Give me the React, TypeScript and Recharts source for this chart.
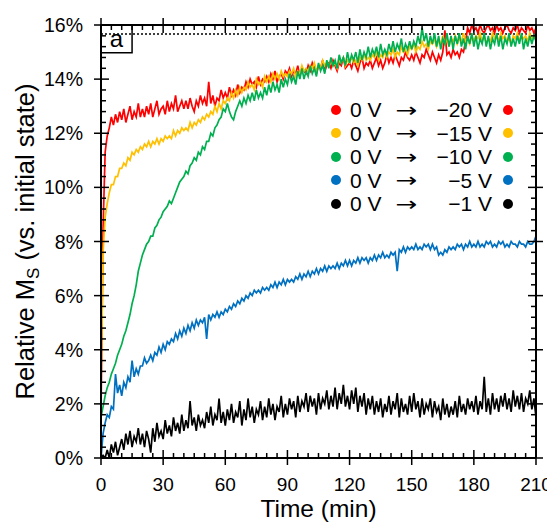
import React from "react";
import {
  LineChart,
  Line,
  XAxis,
  YAxis,
  Legend,
  Label,
  ReferenceLine,
  ReferenceArea,
} from "recharts";

const FONT = '"Liberation Sans", Arial, sans-serif';

// one reading per minute, 0 to 210 min
const time: number[] = [];
for (let t = 0; t <= 210; t++) time.push(t);

// relative Ms (%), rows of ten minutes
const minus20 = [
  1.5, 8.5, 11.3, 11.9, 12.2, 12.6, 12.3, 12.7, 12.4, 12.8,
  12.5, 12.9, 12.4, 12.7, 13.0, 12.5, 12.8, 12.6, 13.1, 12.6,
  12.9, 12.6, 13.0, 12.7, 13.1, 12.6, 12.9, 13.2, 12.7, 12.9,
  13.0, 12.7, 13.2, 12.8, 13.1, 12.9, 13.4, 12.8, 13.0, 13.2,
  12.9, 13.2, 12.9, 13.3, 13.0, 12.8, 13.2, 13.0, 13.4, 13.1,
  13.3, 13.0, 13.9, 13.1, 13.4, 13.0, 13.3, 13.2, 13.6, 13.3,
  13.5, 13.3, 13.7, 13.4, 13.6, 13.4, 13.8, 13.5, 13.7, 13.6,
  13.9, 13.7, 14.0, 13.8, 13.9, 13.7, 14.1, 13.8, 14.0, 13.9,
  14.1, 13.9, 14.2, 14.0, 14.3, 13.9, 14.1, 14.2, 14.0, 14.3,
  14.2, 14.4, 14.1, 14.3, 14.2, 14.5, 14.1, 14.4, 14.3, 14.2,
  14.5, 14.3, 14.6, 14.4, 14.2, 14.5, 14.4, 14.7, 14.3, 14.5,
  14.6, 14.4, 14.7, 14.5, 14.3, 14.6, 14.5, 14.8, 14.4, 14.5,
  14.6, 14.4, 14.7, 14.5, 14.3, 14.6, 14.8, 14.4, 14.6, 14.5,
  14.7, 14.4, 14.6, 14.8, 14.5, 14.7, 14.4, 14.6, 14.9, 14.6,
  14.8, 14.6, 14.9, 14.7, 14.5, 14.8, 14.7, 15.0, 14.8, 14.7,
  14.9, 14.7, 15.0, 14.8, 14.6, 14.9, 14.8, 15.1, 14.9, 14.7,
  15.0, 14.8, 14.6, 14.9, 14.7, 15.0, 15.8, 14.9, 15.0, 14.8,
  15.1, 14.9, 15.0, 14.8, 15.1, 15.0, 15.4, 15.9, 15.7, 16.0,
  15.8, 15.9, 15.7, 16.0, 15.8, 15.7, 15.9, 16.0, 15.8, 15.9,
  15.7, 16.0, 15.8, 15.9, 15.7, 15.9, 16.0, 15.8, 15.7, 15.9,
  15.8, 16.0, 15.7, 15.9, 15.8, 15.7, 16.0, 15.8, 15.9, 15.7,
  15.9,
];

const minus15 = [
  2.5, 7.6, 8.9, 9.4, 9.8, 10.1, 10.1, 10.4, 10.4, 10.7,
  10.7, 10.9, 10.8, 11.1, 11.0, 11.3, 11.2, 11.4, 11.3, 11.5,
  11.4, 11.6, 11.5, 11.7, 11.5, 11.7, 11.6, 11.8, 11.6, 11.8,
  11.7, 11.9, 11.8, 11.9, 11.8, 12.1, 11.9, 12.1, 12.0, 12.2,
  12.1, 12.2, 12.1, 12.4, 12.2, 12.4, 12.3, 12.5, 12.4, 12.6,
  12.5, 12.7, 12.6, 12.8, 12.7, 13.0, 12.8, 13.1, 12.9, 13.2,
  13.1, 13.3, 13.2, 13.5, 13.3, 13.6, 13.4, 13.7, 13.5, 13.7,
  13.6, 13.9, 13.7, 13.8, 13.6, 14.0, 13.8, 13.9, 13.7, 14.1,
  13.9, 14.1, 13.9, 14.2, 14.0, 14.2, 14.0, 14.3, 14.1, 14.2,
  14.1, 14.3, 14.2, 14.4, 14.1, 14.3, 14.2, 14.5, 14.3, 14.4,
  14.3, 14.5, 14.4, 14.6, 14.3, 14.5, 14.4, 14.7, 14.5, 14.6,
  14.5, 14.7, 14.5, 14.6, 14.4, 14.7, 14.6, 14.8, 14.5, 14.7,
  14.6, 14.8, 14.6, 14.7, 14.5, 14.8, 14.7, 14.9, 14.7, 14.8,
  14.7, 14.9, 14.8, 15.0, 14.7, 14.9, 14.8, 15.0, 14.8, 15.0,
  14.9, 15.1, 14.8, 15.0, 14.9, 15.2, 15.0, 15.1, 14.9, 15.2,
  15.1, 15.3, 15.0, 15.2, 15.1, 15.4, 15.2, 15.3, 15.1, 15.4,
  15.3, 15.5, 15.2, 15.4, 15.3, 15.6, 15.3, 15.5, 15.2, 15.5,
  15.4, 15.6, 15.3, 15.5, 15.4, 15.7, 15.4, 15.5, 15.3, 15.6,
  15.4, 15.6, 15.5, 15.7, 15.4, 15.6, 15.3, 15.5, 15.4, 15.7,
  15.5, 15.6, 15.4, 15.7, 15.5, 15.6, 15.4, 15.5, 15.3, 15.6,
  15.5, 15.7, 15.4, 15.6, 15.5, 15.6, 15.4, 15.7, 15.5, 15.6,
  15.5,
];

const minus10 = [
  1.5, 1.9, 2.3, 2.6, 2.8, 3.1, 3.3, 3.5, 3.8, 4.0,
  4.2, 4.5, 4.7, 5.0, 5.3, 5.7, 6.0, 6.4, 6.9, 7.2,
  7.5, 7.7, 7.9, 8.0, 8.2, 8.2, 8.5, 8.6, 8.8, 8.9,
  9.1, 9.2, 9.3, 9.5, 9.4, 9.6, 9.8, 10.0, 10.2, 10.3,
  10.4, 10.6, 10.5, 10.8, 10.9, 11.1, 11.0, 11.3, 11.2, 11.5,
  11.4, 11.7, 11.7, 12.0, 11.9, 12.2, 12.3, 12.5, 12.6, 12.9,
  12.8, 13.1, 12.8, 12.6, 12.5, 12.8, 13.0, 13.2, 13.0, 13.3,
  13.1, 13.4, 13.2, 13.5, 13.2, 13.6, 13.3, 13.5, 13.3, 13.7,
  13.4, 13.8, 13.5, 13.9, 13.6, 13.8, 13.5, 14.0, 13.7, 14.0,
  13.8, 14.2, 13.9, 14.1, 13.8, 14.3, 14.0, 14.4, 14.0, 14.3,
  14.1, 14.5, 14.2, 14.4, 14.1, 14.6, 14.3, 14.5, 14.2, 14.7,
  14.4, 14.8, 14.5, 14.7, 14.4, 14.9, 14.6, 14.8, 14.5, 15.0,
  14.6, 14.9, 14.7, 15.0, 14.6, 15.1, 14.7, 15.0, 14.8, 15.2,
  14.8, 15.1, 14.9, 15.2, 14.8, 15.3, 14.9, 15.1, 14.9, 15.3,
  15.0, 15.4, 15.0, 15.3, 15.1, 15.5, 15.0, 15.3, 15.1, 15.4,
  15.1, 15.4, 15.2, 15.6, 15.3, 15.9, 15.4, 15.7, 15.2, 15.6,
  15.3, 15.7, 15.2, 15.6, 15.1, 15.5, 15.3, 15.7, 15.2, 15.6,
  15.1, 15.6, 15.3, 15.7, 15.2, 15.5, 15.1, 15.6, 15.3, 15.7,
  15.2, 15.6, 15.1, 15.5, 15.3, 15.7, 15.2, 15.6, 15.1, 15.5,
  15.3, 15.7, 15.2, 15.6, 15.1, 15.5, 15.3, 15.7, 15.2, 15.5,
  15.2, 15.6, 15.3, 15.7, 15.1, 15.5, 15.2, 15.6, 15.3, 15.6,
  15.4,
];

const minus5 = [
  0.0, 0.9, 1.3, 1.6, 1.5, 1.9, 1.8, 3.1, 2.4, 2.7,
  2.3, 2.8, 2.6, 3.0, 2.8, 3.6, 3.0, 3.3, 3.1, 3.4,
  3.4, 3.7, 3.5, 3.6, 3.8, 3.6, 3.9, 3.8, 4.1, 3.9,
  4.2, 4.0, 4.3, 4.2, 4.4, 4.3, 4.6, 4.4, 4.7, 4.5,
  4.8, 4.6, 4.9, 4.7, 5.0, 4.8, 5.1, 4.9, 5.1, 5.0,
  5.2, 4.4, 5.3, 5.1, 5.3, 5.2, 5.4, 5.2, 5.4, 5.3,
  5.5, 5.4, 5.6, 5.5, 5.7, 5.6, 5.8, 5.7, 5.9, 5.8,
  6.0, 5.9, 6.1, 6.0, 6.2, 6.1, 6.2, 6.1, 6.3, 6.2,
  6.3, 6.2, 6.4, 6.3, 6.5, 6.3, 6.5, 6.4, 6.6, 6.4,
  6.6, 6.5, 6.6, 6.5, 6.7, 6.6, 6.8, 6.6, 6.8, 6.7,
  6.9, 6.7, 6.9, 6.8, 7.0, 6.8, 7.0, 6.9, 7.1, 6.9,
  7.1, 7.0, 7.1, 7.0, 7.2, 7.0, 7.2, 7.1, 7.3, 7.1,
  7.3, 7.1, 7.3, 7.2, 7.4, 7.2, 7.4, 7.3, 7.4, 7.2,
  7.4, 7.3, 7.5, 7.3, 7.5, 7.4, 7.6, 7.4, 7.5, 7.4,
  7.6, 7.5, 7.6, 6.9, 7.7, 7.6, 7.8, 7.6, 7.8, 7.7,
  7.8, 7.7, 7.9, 7.7, 7.8, 7.7, 7.9, 7.8, 7.9, 7.7,
  7.9, 7.7, 7.8, 7.5, 7.6, 7.5, 7.7, 7.6, 7.8, 7.7,
  7.8, 7.7, 7.9, 7.8, 7.9, 7.7, 7.9, 7.8, 8.0, 7.8,
  7.9, 7.8, 8.0, 7.8, 7.9, 7.8, 8.0, 7.9, 8.0, 7.8,
  7.9, 7.8, 8.0, 7.9, 8.0, 7.8, 7.9, 7.8, 8.0, 7.9,
  7.9, 7.8, 8.0, 7.9, 7.9, 7.8, 8.0, 7.9, 7.9, 8.0,
  8.2,
];

const minus1 = [
  0.0, 0.1, 0.0, 0.3, 0.0, 0.5, 0.2, 0.6, 0.1, 0.4,
  0.7, 0.3, 0.9, 0.5, 1.0, 0.4, 0.8, 0.6, 1.1, 0.5,
  0.9, 0.4, 1.0, 0.7, 0.2, 1.1, 0.6, 1.3, 0.8, 1.0,
  0.7, 1.4, 0.9, 1.2, 0.8, 1.5, 1.0, 1.3, 0.9, 1.6,
  1.0, 1.4, 1.1, 2.1, 1.2, 1.5, 1.0, 1.6, 1.2, 1.4,
  1.1, 1.7, 1.3, 1.9, 1.2, 1.6, 1.4, 2.2, 1.3, 1.7,
  1.2, 1.8, 1.4, 2.0, 1.3, 1.7, 1.5, 2.1, 1.2, 1.8,
  1.4, 2.2, 1.5, 1.9, 1.3, 1.8, 1.6, 2.1, 1.4, 1.9,
  1.5, 2.2, 1.6, 2.0, 1.4, 1.9, 1.7, 2.3, 1.5, 2.0,
  1.6, 2.2, 1.8, 2.1, 1.5, 2.3, 1.7, 2.1, 1.9, 2.4,
  1.7, 2.3, 1.9, 2.2, 1.6, 2.4, 1.8, 2.2, 2.0, 2.5,
  1.8, 2.3, 1.9, 2.6, 1.8, 2.4, 2.0, 2.7, 1.9, 2.3,
  1.8, 2.5, 2.0, 2.6, 1.7, 2.3, 1.9, 2.4, 1.6, 2.2,
  1.8, 2.3, 1.6, 2.1, 1.7, 2.2, 1.5, 2.0, 1.7, 2.3,
  1.6, 2.1, 1.8, 2.4, 1.5, 2.2, 1.7, 2.0, 1.6, 2.3,
  1.7, 2.4, 1.8, 2.1, 1.5, 2.2, 1.6, 2.0, 1.8, 2.2,
  1.5, 2.1, 1.7, 1.9, 1.4, 2.2, 1.6, 2.0, 1.5, 1.9,
  1.6, 2.1, 1.5, 2.3, 1.7, 2.0, 1.6, 2.2, 1.8, 2.1,
  1.7, 2.3, 1.6, 2.1, 1.8, 3.0, 1.7, 2.2, 1.6, 2.4,
  1.8, 2.2, 1.7, 2.3, 1.9, 2.4, 1.8, 2.2, 1.7, 2.5,
  1.9, 2.3, 1.8, 2.4, 1.7, 2.2, 2.0, 2.5, 1.8, 2.2,
  1.5,
];

const seriesKeys = ["m20", "m15", "m10", "m5", "m1"];
const seriesLabels = ["\u221220 V", "\u221215 V", "\u221210 V", "\u22125 V", "\u22121 V"];
const seriesColors = ["#FF0000", "#FFC000", "#00B050", "#0070C0", "#000000"];

const xTicks: number[] = [];
for (let t = 0; t <= 210; t += 5) xTicks.push(t);
const yTicks: number[] = [];
for (let k = 0; k <= 40; k++) yTicks.push(Math.round(k * 4) / 10);

const rows = time.map((t, i) => ({
  t,
  m20: minus20[i],
  m15: minus15[i],
  m10: minus10[i],
  m5: minus5[i],
  m1: minus1[i],
}));

// plot box in svg px
const LEFT = 93;
const RIGHT = 528;
const TOP = 17;
const BOTTOM = 450;

const isMajorY = (v: number) => Math.abs(v / 2 - Math.round(v / 2)) < 1e-6;

const BottomTick = (props: any) => {
  const { x, y, payload } = props;
  const v = payload.value;
  const major = v % 30 === 0;
  return (
    <g>
      <line x1={x} x2={x} y1={y - (major ? 8 : 5)} y2={y + (major ? 7 : 0)} stroke="#000" strokeWidth={1.5} />
      {major && (
        <text x={x} y={y + 33} textAnchor="middle" fontSize={19} fontFamily={FONT} fill="#000">
          {v}
        </text>
      )}
    </g>
  );
};

const TopTick = (props: any) => {
  const { x, y, payload } = props;
  const major = payload.value % 30 === 0;
  return <line x1={x} x2={x} y1={y - (major ? 7 : 0)} y2={y + (major ? 8 : 5)} stroke="#000" strokeWidth={1.5} />;
};

const LeftTick = (props: any) => {
  const { x, y, payload } = props;
  const v = payload.value;
  const major = isMajorY(v);
  return (
    <g>
      <line x1={x - (major ? 7 : 0)} x2={x + (major ? 8 : 5)} y1={y} y2={y} stroke="#000" strokeWidth={1.5} />
      {major && (
        <text x={x - 18} y={y + 7} textAnchor="end" fontSize={19.5} fontFamily={FONT} fill="#000">
          {Math.round(v) + "%"}
        </text>
      )}
    </g>
  );
};

const RightTick = (props: any) => {
  const { x, y, payload } = props;
  const major = isMajorY(payload.value);
  return <line x1={x - (major ? 8 : 5)} x2={x + (major ? 7 : 0)} y1={y} y2={y} stroke="#000" strokeWidth={1.5} />;
};

const dot = (color: string) => (
  <span style={{ display: "inline-block", width: 10, height: 10, borderRadius: 5, background: color }} />
);

const renderLegend = () => (
  <div style={{ fontFamily: FONT, fontSize: 21, color: "#000" }}>
    {seriesLabels.map((label, i) => (
      <div key={label} style={{ display: "flex", alignItems: "center", height: 23.5, lineHeight: "23.5px", whiteSpace: "nowrap" }}>
        {dot(seriesColors[i])}
        <span style={{ width: 36, marginLeft: 9 }}>0 V</span>
        <span style={{ width: 41, textAlign: "center" }}>
          <span
            style={{
              display: "inline-block",
              fontFamily: '"DejaVu Sans", sans-serif',
              fontSize: 20,
              transform: "scaleX(1.3)",
            }}
          >
            &#8594;
          </span>
        </span>
        <span style={{ width: 65, textAlign: "right" }}>{label}</span>
        <span style={{ width: 11 }} />
        {dot(seriesColors[i])}
      </div>
    ))}
  </div>
);

const App: React.FC = () => {
  return (
    <LineChart
      width={547}
      height={517}
      data={rows}
      margin={{ top: 7, right: 9, left: 0, bottom: 7 }}
    >
      <XAxis
        dataKey="t"
        type="number"
        domain={[0, 210]}
        allowDataOverflow
        ticks={xTicks}
        interval={0}
        tick={BottomTick}
        tickSize={0}
        tickMargin={0}
        tickLine={false}
        axisLine={{ stroke: "#000", strokeWidth: 2 }}
        height={60}
      >
        <Label
          content={() => (
            <text x={(LEFT + RIGHT) / 2} y={509} textAnchor="middle" fontSize={24.5} fontFamily={FONT} fill="#000">
              Time (min)
            </text>
          )}
        />
      </XAxis>
      <XAxis
        xAxisId="top"
        orientation="top"
        type="number"
        domain={[0, 210]}
        allowDataOverflow
        ticks={xTicks}
        interval={0}
        tick={TopTick}
        tickSize={0}
        tickMargin={0}
        tickLine={false}
        axisLine={{ stroke: "#000", strokeWidth: 2 }}
        height={10}
      />
      <YAxis
        type="number"
        domain={[0, 16]}
        allowDataOverflow
        ticks={yTicks}
        interval={0}
        tick={LeftTick}
        tickSize={0}
        tickMargin={0}
        tickLine={false}
        axisLine={{ stroke: "#000", strokeWidth: 2 }}
        width={93}
      >
        <Label
          content={() => (
            <text
              x={26}
              y={(TOP + BOTTOM) / 2}
              transform={`rotate(-90 26 ${(TOP + BOTTOM) / 2})`}
              textAnchor="middle"
              fontSize={25.5}
              fontFamily={FONT}
              fill="#000"
            >
              Relative M
              <tspan fontSize={17} dy={5}>S</tspan>
              <tspan dy={-5}> (vs. initial state)</tspan>
            </text>
          )}
        />
      </YAxis>
      <YAxis
        yAxisId="right"
        orientation="right"
        type="number"
        domain={[0, 16]}
        allowDataOverflow
        ticks={yTicks}
        interval={0}
        tick={RightTick}
        tickSize={0}
        tickMargin={0}
        tickLine={false}
        axisLine={{ stroke: "#000", strokeWidth: 2 }}
        width={10}
      />
      <ReferenceLine y={15.67} stroke="#000" strokeWidth={1.5} strokeDasharray="2 2" />
      {seriesKeys.map((k, i) => (
        <Line
          key={k}
          dataKey={k}
          stroke={seriesColors[i]}
          strokeWidth={1.7}
          dot={false}
          isAnimationActive={false}
        />
      ))}
      <ReferenceArea
        x1={0}
        x2={15}
        y1={14.97}
        y2={16}
        fill="#fff"
        fillOpacity={1}
        stroke="#000"
        strokeWidth={1.5}
      >
        <Label value="a" position="center" fontSize={24} fontFamily={FONT} fill="#000" />
      </ReferenceArea>
      <Legend
        content={renderLegend}
        layout="vertical"
        align="center"
        verticalAlign="middle"
        wrapperStyle={{ position: "absolute", top: 90, left: 323, width: 210 }}
      />
    </LineChart>
  );
};

export default App;
